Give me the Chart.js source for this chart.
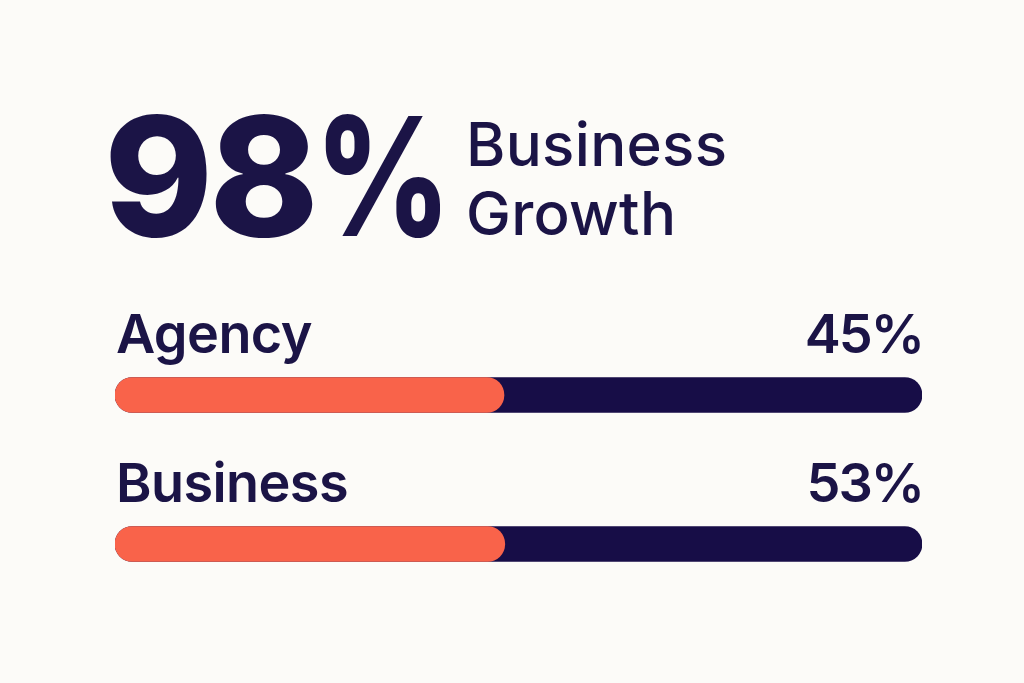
<!DOCTYPE html>
<html>
<head>
<meta charset="utf-8">
<script src="https://cdn.jsdelivr.net/npm/chart.js@4.4.1/dist/chart.umd.min.js"></script>
<style>
  html, body { margin: 0; padding: 0; background: #fcfbf8; }
  body { width: 1024px; height: 683px; position: relative; overflow: hidden; font-family: Inter, "Noto Sans", sans-serif; color: #1b1446; }
  #big { position: absolute; left: 104px; top: 94px; font-size: 165px; line-height: 1; font-weight: 800; letter-spacing: -4px; white-space: nowrap; }
  #big .pct { display: inline-block; transform: scaleX(0.8); transform-origin: left center; }
  #sub { position: absolute; left: 466px; top: 110px; font-size: 60px; line-height: 69px; font-weight: 500; letter-spacing: 0.3px; }
  #wrap { position: absolute; left: 0; top: 0; width: 1024px; height: 683px; }
</style>
</head>
<body>
<div id="big">98<span class="pct">%</span></div>
<div id="sub">Business<br>Growth</div>
<div id="wrap"><canvas id="bars"></canvas></div>
<script>
const categories = ['Agency', 'Business'];
const shownLabels = ['45%', '53%'];
// filled part as drawn in the picture (share of the whole track)
const fillValues = [48.2, 48.3];
const trackValues = [100, 100];

const navy = '#170d47';
const orange = '#f9634a';
const textColor = '#1b1446';

const labelPlugin = {
  id: 'rowLabels',
  afterDatasetsDraw(chart) {
    const ctx = chart.ctx;
    const meta = chart.getDatasetMeta(1);
    const area = chart.chartArea;
    ctx.save();
    ctx.fillStyle = textColor;
    ctx.font = '600 54px Inter';
    ctx.textBaseline = 'alphabetic';
    meta.data.forEach((bar, i) => {
      const y = bar.y - 42;
      ctx.letterSpacing = '-0.6px';
      ctx.textAlign = 'left';
      ctx.fillText(categories[i], area.left + 1, y);
      ctx.letterSpacing = '-2px';
      ctx.textAlign = 'right';
      ctx.fillText(shownLabels[i], area.right + 1, y);
    });
    ctx.restore();
  }
};

new Chart(document.getElementById('bars'), {
  type: 'bar',
  data: {
    labels: categories,
    datasets: [{
      label: 'Growth',
      data: fillValues,
      backgroundColor: orange,
      borderRadius: 18,
      borderSkipped: false,
      barThickness: 35,
      grouped: false
    }, {
      label: 'Track',
      data: trackValues,
      backgroundColor: navy,
      borderRadius: 18,
      borderSkipped: false,
      barThickness: 35,
      grouped: false
    }]
  },
  options: {
    indexAxis: 'y',
    responsive: true,
    maintainAspectRatio: false,
    animation: false,
    layout: { padding: { left: 115, right: 102, top: 320.5, bottom: 64.5 } },
    scales: {
      x: { display: false, min: 0, max: 100 },
      y: { display: false }
    },
    plugins: {
      legend: { display: false },
      tooltip: { enabled: false }
    }
  },
  plugins: [labelPlugin]
});
</script>
</body>
</html>
